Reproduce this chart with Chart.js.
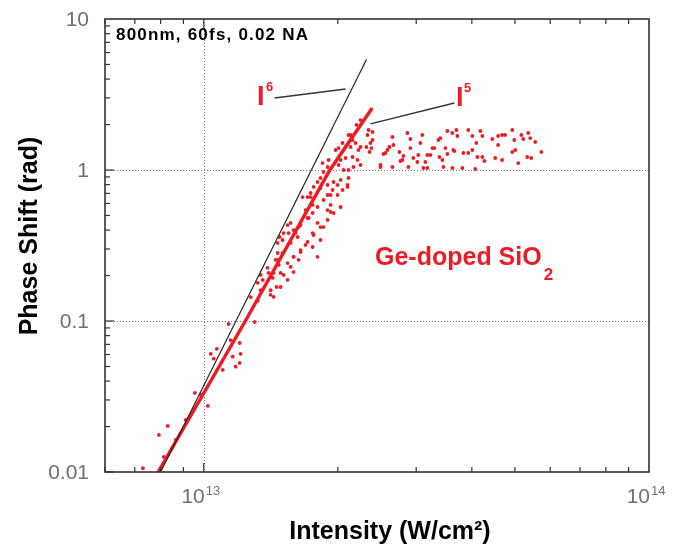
<!DOCTYPE html>
<html>
<head>
<meta charset="utf-8">
<script src="https://cdn.jsdelivr.net/npm/chart.js@4/dist/chart.umd.min.js"></script>
<style>
  html, body { margin: 0; background: #fff; }
  #wrap { width: 684px; height: 552px; }
</style>
</head>
<body>
<div id="wrap"><canvas id="chart" width="684" height="552"></canvas></div>
<script>
// intensity in units of 1e13 W/cm^2, phase shift in rad
const intensityE13 = [
  0.730, 0.793, 0.830, 0.813, 0.955, 1.021, 1.037, 1.070, 1.053, 1.137,
  1.302, 1.210, 1.204, 1.179, 1.161, 1.204, 1.322, 1.342, 1.391, 1.435,
  1.428, 1.473, 1.450, 1.465, 1.465, 1.480, 1.511, 1.503, 1.543, 1.567,
  1.551, 1.591, 1.625, 1.633, 1.720, 1.693, 1.756, 1.738, 1.801, 1.858,
  1.756, 1.829, 1.897, 1.927, 1.927, 1.693, 1.650, 1.756, 1.591, 1.633,
  1.567, 1.591, 1.511, 1.488, 1.543, 1.435, 1.457, 1.413, 1.801, 2.344,
  2.393, 2.332, 2.368, 2.319, 2.356, 2.249, 2.226, 2.192, 2.158, 2.114,
  2.136, 2.082, 2.050, 2.008, 1.977, 2.082, 2.158, 2.214, 2.249, 2.169,
  2.114, 2.061, 1.907, 1.897, 1.858, 1.829, 1.801, 1.765, 1.738, 1.829,
  1.897, 1.957, 2.029, 2.103, 2.050, 1.998, 1.927, 2.114, 1.848, 1.711,
  1.667, 2.494, 2.533, 2.559, 2.586, 2.612, 2.653, 2.667, 2.653, 2.765,
  2.808, 2.866, 2.911, 2.911, 2.956, 3.018, 3.033, 3.065, 3.097, 3.145,
  3.178, 3.178, 3.262, 3.365, 3.400, 3.435, 3.489, 3.524, 3.524, 3.616,
  3.635, 3.692, 3.712, 3.654, 3.616, 3.809, 3.829, 3.928, 4.010, 3.928,
  4.010, 4.094, 4.116, 4.073, 4.180, 4.223, 4.223, 4.268, 4.446, 4.515,
  4.582, 4.582, 4.678, 4.678, 4.751, 4.931, 4.982, 4.931, 5.008, 5.087,
  5.167, 5.220, 5.327, 5.354, 5.410, 5.438, 5.552, 5.730, 2.393, 2.380,
  2.494, 2.751, 2.794, 3.296, 3.228, 3.113, 3.382, 3.453, 2.881,
  1.275, 1.357, 1.398, 1.465, 1.503, 1.567, 1.608, 1.650, 1.711, 1.756,
  1.801, 1.858, 1.897, 1.947, 1.998, 1.342, 1.413, 1.488, 1.543, 1.591,
  1.650, 1.711, 1.765, 1.829, 1.897, 1.957, 2.029, 2.103, 1.322, 2.029,
  2.136, 2.203, 2.249, 2.008, 1.103, 0.985, 0.911, 0.865, 1.149
];
const phaseShift = [
  0.0106, 0.0176, 0.0202, 0.0126, 0.0334, 0.0274, 0.0606, 0.0654, 0.0563, 0.0955,
  0.0985, 0.0606, 0.0528, 0.0498, 0.0580, 0.0715, 0.136, 0.202, 0.225, 0.208,
  0.193, 0.235, 0.254, 0.282, 0.329, 0.360, 0.382, 0.344, 0.432, 0.446,
  0.382, 0.400, 0.360, 0.419, 0.481, 0.543, 0.587, 0.662, 0.446, 0.419,
  0.382, 0.344, 0.543, 0.587, 0.527, 0.319, 0.286, 0.309, 0.266, 0.254,
  0.228, 0.211, 0.202, 0.168, 0.187, 0.1445, 0.168, 0.149, 0.266, 1.84,
  1.785, 1.705, 1.509, 1.420, 1.316, 1.420, 1.357, 1.509, 1.58, 1.705,
  1.420, 1.420, 1.509, 1.398, 1.357, 1.201, 1.219, 1.165, 1.079, 1.047,
  1.0, 1.0, 1.165, 1.047, 0.970, 0.885, 0.833, 0.772, 0.704, 0.760,
  0.796, 0.833, 0.859, 0.796, 0.737, 0.683, 0.683, 0.885, 1.112, 0.662,
  0.662, 1.079, 1.276, 1.296, 1.357, 1.420, 1.654, 1.464, 1.047, 1.147,
  1.238, 1.758, 1.604, 1.398, 1.201, 1.130, 1.257, 1.509, 1.705, 1.130,
  1.257, 1.031, 1.398, 1.58, 1.628, 1.165, 1.398, 1.276, 1.812, 1.758,
  1.357, 1.84, 1.679, 1.336, 1.031, 1.031, 1.296, 1.84, 1.679, 1.296,
  1.357, 1.509, 1.219, 1.015, 1.812, 1.679, 1.219, 1.147, 1.604, 1.201,
  1.679, 1.464, 1.705, 1.165, 1.705, 1.84, 1.58, 1.316, 1.357, 1.112,
  1.705, 1.604, 1.219, 1.758, 1.628, 1.201, 1.533, 1.316, 1.58, 1.398,
  1.047, 1.316, 1.165, 1.398, 1.257, 1.031, 1.219, 1.047, 1.047,
  0.144, 0.187, 0.208, 0.254, 0.282, 0.329, 0.382, 0.432, 0.481, 0.519,
  0.569, 0.633, 0.683, 0.737, 0.796, 0.160, 0.160, 0.208, 0.242, 0.266,
  0.295, 0.334, 0.371, 0.419, 0.467, 0.519, 0.569, 0.772, 0.179, 1.165,
  1.705, 1.987, 2.14, 1.079, 0.0474, 0.0324, 0.0221, 0.0163, 0.0748
];

// dense I^5 band and the I^6 guide line
const bandI = [0.79, 1.24, 1.92, 2.39];
const bandPhase = [0.01, 0.1, 1, 2.57];
const i6I = [0.80, 2.32];
const i6Phase = [0.01, 5.4];
// label leader lines
const lead6I = [1.443, 2.082];
const lead6Phase = [3.00, 3.44];
const lead5I = [2.368, 3.654];
const lead5Phase = [2.02, 2.78];

const yTicks = [0.01, 0.1, 1, 10];
const yTickLabels = ['0.01', '0.1', '1', '10'];
const xTicks = [1, 10];
const xTickExp = ['13', '14'];

const RED = '#ec1c24';
const pts = (xs, ys) => xs.map((v, i) => ({ x: v, y: ys[i] }));

function seg(ctx, x1, y1, x2, y2) {
  ctx.beginPath(); ctx.moveTo(x1, y1); ctx.lineTo(x2, y2); ctx.stroke();
}

const decor = {
  id: 'decor',
  beforeDatasetsDraw(chart) {
    const { ctx, chartArea: a, scales: { x, y } } = chart;
    ctx.save();
    ctx.strokeStyle = '#777'; ctx.lineWidth = 1; ctx.setLineDash([1, 2]);
    yTicks.forEach(v => {
      const py = Math.round(y.getPixelForValue(v)) + 0.5;
      if (py > a.top + 2 && py < a.bottom - 2) seg(ctx, a.left, py, a.right, py);
    });
    xTicks.forEach(v => {
      const px = Math.round(x.getPixelForValue(v)) + 0.5;
      if (px > a.left + 2 && px < a.right - 2) seg(ctx, px, a.top, px, a.bottom);
    });
    ctx.restore();
  },
  afterDatasetsDraw(chart) {
    const { ctx, chartArea: a, scales: { x, y } } = chart;
    ctx.save();
    // frame
    ctx.strokeStyle = '#333'; ctx.lineWidth = 1.6;
    ctx.strokeRect(a.left, a.top, a.right - a.left, a.bottom - a.top);
    // inward ticks
    ctx.lineWidth = 1.2;
    for (let e = -2; e <= 0; e++) {
      for (let m = 1; m <= 9; m++) {
        const py = y.getPixelForValue(m * Math.pow(10, e));
        seg(ctx, a.left, py, a.left + (m === 1 ? 9 : 5), py);
      }
    }
    for (let e = -1; e <= 0; e++) {
      for (let m = 1; m <= 9; m++) {
        const v = m * Math.pow(10, e);
        if (v <= 0.6) continue;
        const px = x.getPixelForValue(v);
        seg(ctx, px, a.bottom, px, a.bottom - (m === 1 ? 9 : 5));
        seg(ctx, px, a.top, px, a.top + (m === 1 ? 9 : 5));
      }
    }
    // tick labels
    ctx.fillStyle = '#707070';
    ctx.font = '21px "Liberation Sans", Arial, sans-serif';
    ctx.textAlign = 'right'; ctx.textBaseline = 'middle';
    yTicks.forEach((v, i) => ctx.fillText(yTickLabels[i], a.left - 16, y.getPixelForValue(v) + 1));
    ctx.textBaseline = 'alphabetic';
    xTicks.forEach((v, i) => {
      const px = x.getPixelForValue(v);
      ctx.font = '21px "Liberation Sans", Arial, sans-serif';
      ctx.textAlign = 'right';
      ctx.fillText('10', px + 1, 503);
      ctx.font = '13px "Liberation Sans", Arial, sans-serif';
      ctx.textAlign = 'left';
      ctx.fillText(xTickExp[i], px + 2, 495);
    });
    // axis titles
    ctx.fillStyle = '#000';
    ctx.font = 'bold 25px "Liberation Sans", Arial, sans-serif';
    ctx.textAlign = 'center';
    ctx.fillText('Intensity (W/cm²)', 390, 539);
    ctx.save();
    ctx.translate(37, 236); ctx.rotate(-Math.PI / 2);
    ctx.fillText('Phase Shift (rad)', 0, 0);
    ctx.restore();
    // annotations
    ctx.textAlign = 'left';
    ctx.font = 'bold 17px "Liberation Sans", Arial, sans-serif';
    ctx.letterSpacing = '1.2px';
    ctx.fillText('800nm, 60fs, 0.02 NA', 116, 40);
    ctx.letterSpacing = '0px';
    ctx.fillStyle = RED;
    ctx.font = 'bold 25px "Liberation Sans", Arial, sans-serif';
    ctx.fillText('Ge-doped SiO', 375, 265);
    const w = ctx.measureText('Ge-doped SiO').width;
    ctx.font = 'bold 17px "Liberation Sans", Arial, sans-serif';
    ctx.fillText('2', 375 + w + 2, 280);
    ctx.font = 'bold 27px "Liberation Sans", Arial, sans-serif';
    ctx.fillText('I', 257, 105);
    ctx.fillText('I', 456, 106);
    ctx.font = 'bold 13px "Liberation Sans", Arial, sans-serif';
    ctx.fillText('6', 266, 91);
    ctx.fillText('5', 464, 92);
    ctx.restore();
  }
};

new Chart(document.getElementById('chart'), {
  data: {
    datasets: [
      { type: 'scatter', data: pts(intensityE13, phaseShift), pointRadius: 1.9,
        pointBackgroundColor: RED, pointBorderWidth: 0, order: 3 },
      { type: 'line', data: pts(bandI, bandPhase), borderColor: RED, borderWidth: 3.5,
        pointRadius: 0, tension: 0, order: 2 },
      { type: 'line', data: pts(i6I, i6Phase), borderColor: '#222', borderWidth: 1.2,
        pointRadius: 0, order: 1 },
      { type: 'line', data: pts(lead6I, lead6Phase), borderColor: '#333', borderWidth: 1.5,
        pointRadius: 0, order: 1 },
      { type: 'line', data: pts(lead5I, lead5Phase), borderColor: '#333', borderWidth: 1.5,
        pointRadius: 0, order: 1 }
    ]
  },
  options: {
    responsive: false,
    animation: false,
    layout: { padding: { left: 105, right: 35, top: 19, bottom: 80 } },
    plugins: { legend: { display: false }, tooltip: { enabled: false } },
    scales: {
      x: { type: 'logarithmic', min: 0.6, max: 10, display: false },
      y: { type: 'logarithmic', min: 0.01, max: 10, display: false }
    }
  },
  plugins: [decor]
});
</script>
</body>
</html>
